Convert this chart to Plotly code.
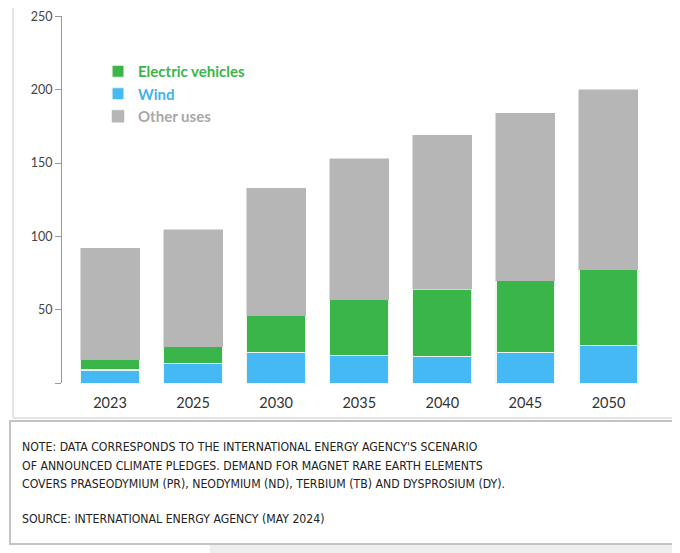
import plotly.graph_objects as go

years = ["2023", "2025", "2030", "2035", "2040", "2045", "2050"]
wind = [9, 13.5, 21, 19, 18, 21, 26]
ev = [7, 11.5, 25, 38, 46, 49, 51.5]
other = [76, 79.5, 87, 96, 105, 114, 122.5]

y_tickvals = [0, 50, 100, 150, 200, 250]
y_ticktext = ["", "50", "100", "150", "200", "250"]

note_lines = [
    "NOTE: DATA CORRESPONDS TO THE INTERNATIONAL ENERGY AGENCY'S SCENARIO",
    "OF ANNOUNCED CLIMATE PLEDGES. DEMAND FOR MAGNET RARE EARTH ELEMENTS",
    "COVERS PRASEODYMIUM (PR), NEODYMIUM (ND), TERBIUM (TB) AND DYSPROSIUM (DY).",
    "SOURCE: INTERNATIONAL ENERGY AGENCY (MAY 2024)",
]

C_EV = "#3ab54a"
C_WIND = "#45b9f3"
C_OTHER = "#b6b6b7"

W, H = 680, 553
OFF = 8  # page body margin


def sx(px):
    return (px - OFF) / W


def sy(py):
    return 1 - (py - OFF) / H


fig = go.Figure()
fig.add_trace(go.Bar(x=years, y=wind, name="<b><span style='color:#3fb3ea'>Wind</span></b>",
                     marker=dict(color=C_WIND, line=dict(color="#eef7ee", width=1.2)), legendrank=2))
fig.add_trace(go.Bar(x=years, y=ev, name="<b><span style='color:#3cb44b'>Electric vehicles</span></b>",
                     marker=dict(color=C_EV, line=dict(color="#eef7ee", width=1.2)), legendrank=1))
fig.add_trace(go.Bar(x=years, y=other, name="<b><span style='color:#a8a8a8'>Other uses</span></b>",
                     marker=dict(color=C_OTHER, line=dict(color=C_OTHER, width=0.5)), legendrank=3))

fig.update_layout(
    width=W, height=H,
    margin=dict(l=0, r=0, t=0, b=0, autoexpand=False),
    paper_bgcolor="white", plot_bgcolor="white",
    barmode="stack", bargap=0.29,
    font=dict(family="Lato, Open Sans, sans-serif", color="#333333"),
    showlegend=True,
    legend=dict(x=sx(98), y=sy(55), xanchor="left", yanchor="top",
                bgcolor="rgba(0,0,0,0)", font=dict(size=15, family="Lato, sans-serif"),
                itemwidth=30, tracegroupgap=0, traceorder="normal"),
    xaxis=dict(domain=[sx(62), sx(650)], range=[-0.578, 6.5], showline=False, showgrid=False,
               ticks="outside", ticklen=6, tickcolor="rgba(0,0,0,0)", zeroline=False,
               tickfont=dict(size=14.5, color="#333333"), fixedrange=True, automargin=False),
    yaxis=dict(domain=[sy(383.3), sy(16.3)], range=[0, 250], showline=True, linecolor="#9a9a9a",
               linewidth=1, ticks="outside", ticklen=6, tickcolor="#9a9a9a", showgrid=False, zeroline=False,
               tickvals=y_tickvals, ticktext=y_ticktext, tickfont=dict(size=12.5, color="#444444"),
               ticklabeloverflow="allow", automargin=False),
)

shapes = [
    dict(type="line", xref="paper", yref="paper", x0=sx(13), x1=sx(13), y0=1, y1=sy(418),
         line=dict(color="#dddddd", width=1.5)),
    dict(type="line", xref="paper", yref="paper", x0=sx(13), x1=1, y0=sy(418), y1=sy(418),
         line=dict(color="#dddddd", width=1.5)),
    dict(type="rect", xref="paper", yref="paper", x0=sx(210), x1=1, y0=0, y1=sy(545),
         fillcolor="#eeeeee", line=dict(width=0)),
    dict(type="rect", xref="paper", yref="paper", x0=sx(10), x1=1.02, y0=sy(544), y1=sy(421),
         fillcolor="white", line=dict(color="#c4c4c4", width=2)),
]
fig.update_layout(shapes=shapes)

line_y = [447, 466, 484.5, 519]
for txt, ly in zip(note_lines, line_y):
    fig.add_annotation(text=txt, xref="paper", yref="paper", x=sx(20), y=sy(ly),
                       xanchor="left", yanchor="middle", align="left", showarrow=False,
                       font=dict(family="Liberation Sans Narrow, DejaVu Sans Condensed, sans-serif", size=12.2,
                                 color="#222222"))

fig.write_html("out.html")
